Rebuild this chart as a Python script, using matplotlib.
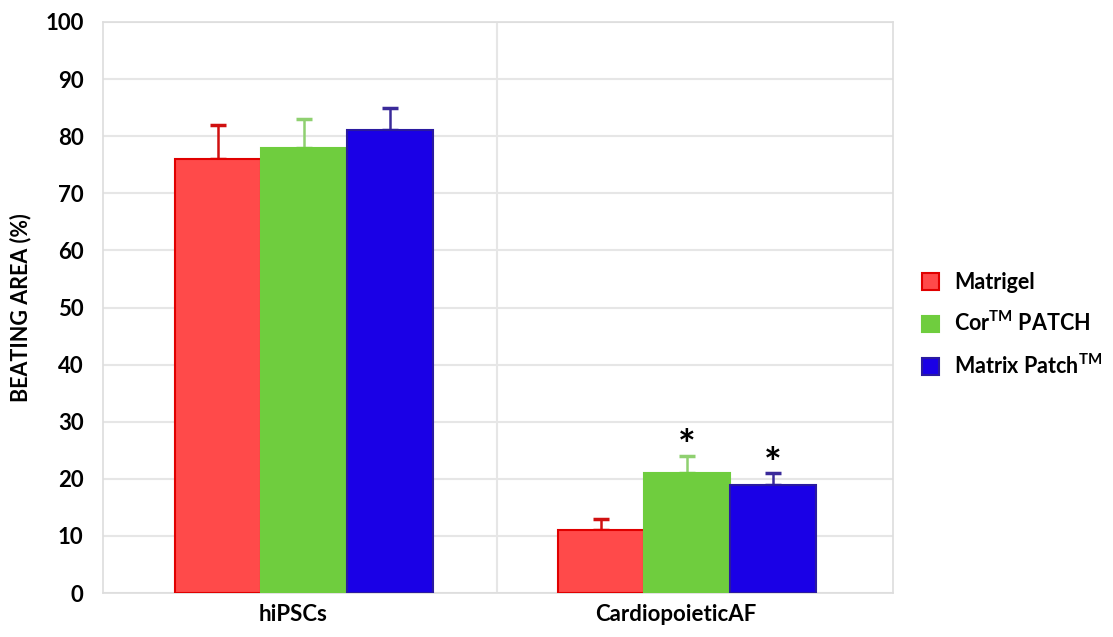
import numpy as np
import matplotlib
matplotlib.use("Agg")
import matplotlib.pyplot as plt
from matplotlib.patches import Patch

plt.rcParams['font.family'] = ['Lato', 'DejaVu Sans']
plt.rcParams['font.weight'] = 'bold'
plt.rcParams['mathtext.fontset'] = 'custom'
plt.rcParams['mathtext.rm'] = 'Lato:bold'
plt.rcParams['mathtext.bf'] = 'Lato:bold'

groups = ["hiPSCs", "CardiopoieticAF"]
series = ["Matrigel", r"Cor$^{\mathrm{TM}}$ PATCH", r"Matrix Patch$^{\mathrm{TM}}$"]
means = {
    "Matrigel": [76, 11],
    "Cor": [78, 21],
    "Matrix": [81, 19],
}
errs = {
    "Matrigel": [6, 2],
    "Cor": [5, 3],
    "Matrix": [4, 2],
}
stars = {"Cor": [False, True], "Matrix": [False, True]}

keys = ["Matrigel", "Cor", "Matrix"]
fills = ["#ff4a4a", "#6fcd3e", "#1a00e6"]
edges = ["#e00000", "#6fcd3e", "#2a1aa0"]
errc = ["#d01010", "#8fd070", "#3a2a9a"]

fig = plt.figure(figsize=(11.13, 6.37), dpi=100)
ax = fig.add_axes([0.0925, 0.069, 0.7095, 0.8965])

x = np.arange(len(groups))
w = 0.2245
for i, k in enumerate(keys):
    pos = x + (i - 1) * w
    ax.bar(pos, means[k], width=w, color=fills[i], edgecolor=edges[i],
           linewidth=1.5, zorder=3)
    ax.errorbar(pos, means[k], yerr=[np.zeros(len(groups)), errs[k]],
                fmt='none', ecolor=errc[i], elinewidth=1.8, capsize=6,
                capthick=2.5, zorder=2)
    if k in stars:
        for j, s in enumerate(stars[k]):
            if s:
                ax.text(pos[j], means[k][j] + errs[k][j] - 2.0, "*",
                        ha='center', va='bottom', fontsize=30,
                        fontweight='bold', color='black')

ax.set_xlim(-0.526, 1.537)
ax.set_ylim(0, 100)
ax.set_yticks(np.arange(0, 101, 10))
ax.set_xticks(x - 0.03)
ax.set_xticklabels(groups, fontsize=16, fontweight='bold')
ax.tick_params(axis='y', labelsize=16, length=0, pad=14)
ax.tick_params(axis='x', length=0, pad=8)
ax.set_ylabel("BEATING AREA (%)", fontsize=15.5, fontweight='bold', labelpad=10)

ax.grid(axis='y', color='#e6e6e6', linewidth=1.5, zorder=0)
ax.axvline(0.503, color='#e6e6e6', linewidth=1.5, zorder=0)
for sp in ax.spines.values():
    sp.set_color('#dddddd')
    sp.set_linewidth(1.2)

handles = [Patch(facecolor=fills[i], edgecolor=edges[i], linewidth=1.5)
           for i in range(3)]
fig.legend(handles, series, loc='center left', bbox_to_anchor=(0.815, 0.49),
           frameon=False, handlelength=0.8, handleheight=0.8,
           handletextpad=0.7, labelspacing=0.85, borderpad=0.2,
           prop={'weight': 'bold', 'size': 15.5})

fig.savefig("out.png", dpi=100)
